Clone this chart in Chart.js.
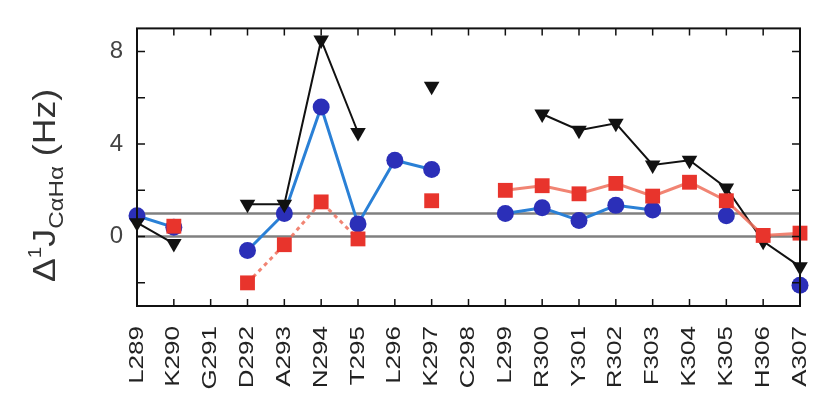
<!DOCTYPE html>
<html>
<head>
<meta charset="utf-8">
<script src="https://cdn.jsdelivr.net/npm/chart.js@4/dist/chart.umd.min.js"></script>
<style>
  html, body { margin: 0; padding: 0; background: #fff; }
  #wrap { width: 825px; height: 412px; }
</style>
</head>
<body>
<div id="wrap"><canvas id="jChart" width="825" height="412"></canvas></div>
<script>
// residues along the x axis
const residues = ['L289', 'K290', 'G291', 'D292', 'A293', 'N294', 'T295', 'L296', 'K297', 'C298',
                  'L299', 'R300', 'Y301', 'R302', 'F303', 'K304', 'K305', 'H306', 'A307'];

// values (Hz), null = no point
const blackTri = [0.6, -0.3, null, 1.4, 1.4, 8.5, 4.5, null, 6.5, null,
                  null, 5.3, 4.6, 4.9, 3.1, 3.3, 2.1, -0.2, -1.3];
const blueCirc = [0.9, 0.4, null, -0.6, 1.0, 5.6, 0.55, 3.3, 2.9, null,
                  1.0, 1.25, 0.7, 1.35, 1.15, null, 0.9, null, -2.1];
const redSq    = [null, 0.45, null, -2.0, -0.35, 1.5, -0.1, null, 1.55, null,
                  2.0, 2.2, 1.85, 2.3, 1.75, 2.35, 1.55, 0.05, 0.15];

// gray reference lines and y ticks
const refLines = [0, 1];
const yTicks = [-2, 0, 2, 4, 6, 8];
const yLabelled = [0, 4, 8];

const FONT = "'Liberation Sans', Arial, sans-serif";

// gray lines behind the data
const refLinePlugin = {
    id: 'refLines',
    beforeDatasetsDraw(chart) {
        const { ctx, chartArea, scales } = chart;
        ctx.save();
        ctx.strokeStyle = '#808080';
        ctx.lineWidth = 2.5;
        refLines.forEach(v => {
            const y = scales.y.getPixelForValue(v);
            ctx.beginPath();
            ctx.moveTo(chartArea.left, y);
            ctx.lineTo(chartArea.right, y);
            ctx.stroke();
        });
        ctx.restore();
    }
};

// box with inward ticks, rotated x labels and the y title
const framePlugin = {
    id: 'frame',
    afterDraw(chart) {
        const { ctx, chartArea, scales } = chart;
        const { left, right, top, bottom } = chartArea;
        ctx.save();
        ctx.strokeStyle = '#111';
        ctx.lineWidth = 2;
        ctx.strokeRect(left, top, right - left, bottom - top);

        ctx.lineWidth = 1.5;
        residues.forEach((r, i) => {
            const x = scales.x.getPixelForValue(i);
            ctx.beginPath();
            ctx.moveTo(x, bottom); ctx.lineTo(x, bottom - 7);
            ctx.moveTo(x, top); ctx.lineTo(x, top + 7);
            ctx.stroke();
        });
        yTicks.forEach(v => {
            const y = scales.y.getPixelForValue(v);
            ctx.beginPath();
            ctx.moveTo(left, y); ctx.lineTo(left + 8, y);
            ctx.moveTo(right, y); ctx.lineTo(right - 8, y);
            ctx.stroke();
        });

        // x labels, reading upwards
        ctx.fillStyle = '#222';
        ctx.font = '20px ' + FONT;
        ctx.textAlign = 'right';
        ctx.textBaseline = 'middle';
        residues.forEach((r, i) => {
            const x = scales.x.getPixelForValue(i);
            ctx.save();
            ctx.translate(x, bottom + 20);
            ctx.rotate(-Math.PI / 2);
            ctx.scale(1.3, 1);
            ctx.fillText(r, 0, 0);
            ctx.restore();
        });

        // y title: Δ¹J with CαHα subscript, (Hz)
        ctx.save();
        ctx.translate(55, 282);
        ctx.rotate(-Math.PI / 2);
        ctx.scale(1.15, 1);
        ctx.fillStyle = '#333';
        ctx.textAlign = 'left';
        ctx.textBaseline = 'alphabetic';
        let x = 0;
        const part = (txt, size, dy) => {
            ctx.font = size + 'px ' + FONT;
            ctx.fillText(txt, x, dy);
            x += ctx.measureText(txt).width;
        };
        part('\u0394', 31, 0);
        part('1', 18, -14);
        part('J', 31, 0);
        part('C\u03b1H\u03b1', 21, 8);
        part(' (Hz)', 31, 0);
        ctx.restore();

        ctx.restore();
    }
};

const ctx = document.getElementById('jChart').getContext('2d');
new Chart(ctx, {
    type: 'line',
    data: {
        labels: residues,
        datasets: [
            {
                label: 'red',
                data: redSq,
                borderColor: 'rgba(238,110,90,0.85)',
                borderWidth: 3,
                pointStyle: 'rect',
                pointRadius: 10.5,
                pointBackgroundColor: '#e8342c',
                pointBorderWidth: 0,
                segment: {
                    borderDash: c => (c.p0DataIndex < 8 ? [4, 4] : undefined)
                },
                order: 1,
                clip: false
            },
            {
                label: 'black',
                data: blackTri,
                borderColor: '#111',
                borderWidth: 2,
                pointStyle: 'triangle',
                rotation: 180,
                pointRadius: 9,
                pointBackgroundColor: '#111',
                pointBorderWidth: 0,
                order: 2,
                clip: false
            },
            {
                label: 'blue',
                data: blueCirc,
                borderColor: '#2a80d6',
                borderWidth: 3,
                pointStyle: 'circle',
                pointRadius: 8.5,
                pointBackgroundColor: '#2b2fb8',
                pointBorderWidth: 0,
                order: 3,
                clip: false
            }
        ]
    },
    options: {
        responsive: false,
        animation: false,
        spanGaps: false,
        layout: { padding: { top: 23, right: 25, left: 0, bottom: 0 } },
        plugins: {
            legend: { display: false },
            tooltip: { enabled: false }
        },
        scales: {
            x: {
                type: 'category',
                offset: false,
                grid: { display: false, drawTicks: false },
                border: { display: false },
                ticks: { display: false },
                afterFit(scale) { scale.height = 106; }
            },
            y: {
                min: -3,
                max: 9,
                grid: { display: false, drawTicks: false },
                border: { display: false },
                afterBuildTicks(scale) {
                    scale.ticks = yLabelled.map(v => ({ value: v }));
                },
                ticks: {
                    color: '#444',
                    font: { size: 24, family: FONT },
                    padding: 14
                },
                afterFit(scale) { scale.width = 137; }
            }
        }
    },
    plugins: [refLinePlugin, framePlugin]
});
</script>
</body>
</html>
